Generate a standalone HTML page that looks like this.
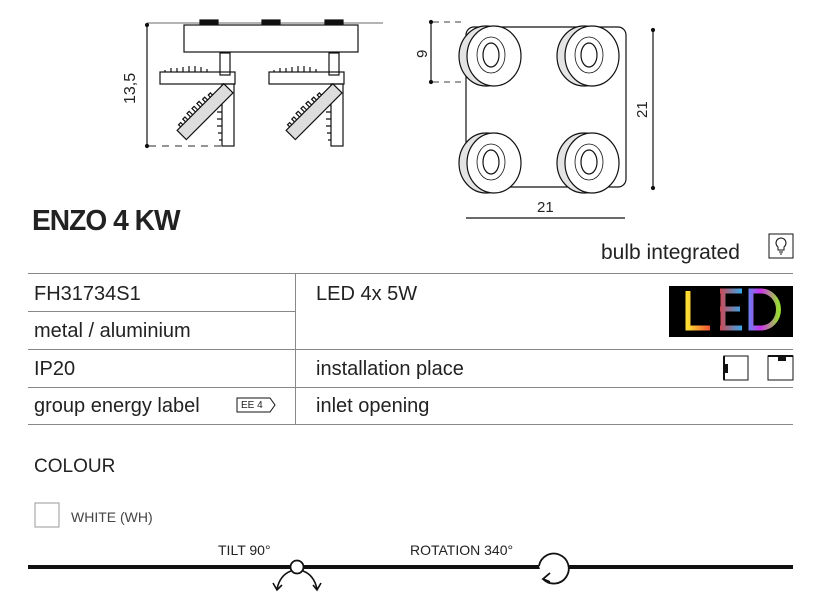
<!DOCTYPE html>
<html><head><style>
body{margin:0;width:826px;height:615px;background:#fff;overflow:hidden;position:relative;font-family:"Liberation Sans",sans-serif;color:#222}
.t{position:absolute;white-space:nowrap}
.h{position:absolute;height:1px;background:#888}
</style></head><body>
<svg width="826" height="615" style="position:absolute;left:0;top:0" fill="none" stroke="#111" stroke-width="1.2">
<line x1="147" y1="23" x2="383" y2="23" stroke="#888"/>
<rect x="200" y="20" width="18" height="4" fill="#111"/><rect x="262" y="20" width="18" height="4" fill="#111"/><rect x="325" y="20" width="18" height="4" fill="#111"/>
<rect x="184" y="25" width="174" height="27"/>
<line x1="147" y1="25" x2="147" y2="146"/>
<line x1="149" y1="146" x2="225" y2="146" stroke-dasharray="7,6" stroke="#555"/>
<g id="sp">
<rect x="220" y="53" width="10" height="22"/>
<rect x="160" y="72" width="75" height="12"/>
<rect x="222" y="84" width="12" height="62"/>
<path d="M165 72v-2M171 72v-4M177 72v-4M183 72v-5M189 72v-6M195 72v-6M201 72v-5M207 72v-3"/>
<path d="M222 98h-5M222 105h-5M222 112h-5M222 119h-5M222 126h-5M222 133h-4M222 140h-3"/>
<g transform="rotate(-45 204 112)"><rect x="172" y="106" width="66" height="13" fill="#ddd"/>
<path d="M177 106v-3h3v3M184 106v-4h3v4M191 106v-5h3v5M198 106v-5h3v5M205 106v-5h3v5M212 106v-4h3v4M219 106v-3h3v3"/></g>
</g>
<use href="#sp" x="109"/>
<rect x="466" y="27" width="160" height="160" rx="8"/>
<g id="c"><ellipse cx="486" cy="56" rx="27" ry="30" fill="#e4e4e4"/><ellipse cx="494" cy="56" rx="27" ry="30" fill="#fff"/><ellipse cx="491" cy="55" rx="14" ry="18" stroke-width=".8"/><ellipse cx="491" cy="55" rx="8" ry="12"/></g>
<use href="#c" x="98"/><use href="#c" y="107"/><use href="#c" x="98" y="107"/>
<line x1="431" y1="22" x2="431" y2="82"/><line x1="433" y1="22" x2="466" y2="22" stroke-dasharray="6,5" stroke="#666"/><line x1="433" y1="82" x2="466" y2="82" stroke-dasharray="6,5" stroke="#666"/>
<line x1="653" y1="30" x2="653" y2="188"/>
<line x1="466" y1="218" x2="625" y2="218"/>
<circle cx="431" cy="22" r="1.5" fill="#111"/><circle cx="431" cy="82" r="1.5" fill="#111"/><circle cx="653" cy="30" r="1.5" fill="#111"/><circle cx="653" cy="188" r="1.5" fill="#111"/><circle cx="147" cy="25" r="1.5" fill="#111"/><circle cx="147" cy="146" r="1.5" fill="#111"/>
<rect x="769" y="234" width="24" height="24" stroke-width="1"/>
<path d="M778 250v-3a5 5 0 1 1 6 0v3zM779 252h4M780 254h2" stroke-width="1"/>
<path d="M724 356v24h24v-24z" stroke-width="1"/><rect x="724" y="364" width="4" height="9" fill="#111" stroke="none"/>
<path d="M768 356v24h25v-24z" stroke-width="1"/><rect x="778" y="356" width="8" height="5" fill="#111" stroke="none"/>
<line x1="724" y1="356" x2="724" y2="380" stroke-width="2"/><line x1="768" y1="356" x2="793" y2="356" stroke-width="2"/>
<path d="M237 398h33l5 7l-5 7h-33z" stroke-width="1"/>
<rect x="35" y="503" width="24" height="24" stroke="#999" stroke-width="1"/>
<line x1="28" y1="567" x2="793" y2="567" stroke-width="4"/>
<circle cx="297" cy="567" r="6.5" fill="#fff" stroke-width="1.8"/>
<path d="M291 571q-11 4-14 18M273 583l4 7l5-5M303 571q11 4 14 18M313 585l4 5l4-7" stroke-width="1.6"/>
<path d="M539 566a15 15 0 1 1 4 13M550 573l-7 6l7 3" stroke-width="1.8" fill="#fff"/>
</svg>
<div class="t" style="font-size:16px;transform:rotate(-90deg);transform-origin:0 0;top:104px;left:122px">13,5</div>
<div class="t" style="font-size:15px;transform:rotate(-90deg);transform-origin:0 0;left:414px;top:58px">9</div>
<div class="t" style="font-size:15px;transform:rotate(-90deg);transform-origin:0 0;left:634px;top:118px">21</div>
<div class="t" style="left:537px;top:199px;font-size:15px">21</div>
<div class="t" style="left:32px;top:205px;font-size:29px;font-weight:bold;letter-spacing:-1px;transform:scaleX(.97);transform-origin:0 0">ENZO 4 KW</div>
<div class="t" style="left:601px;top:241px;font-size:21px">bulb integrated</div>
<div class="h" style="left:28px;top:273px;width:765px"></div>
<div class="h" style="left:28px;top:311px;width:267px"></div>
<div class="h" style="left:28px;top:349px;width:765px"></div>
<div class="h" style="left:28px;top:387px;width:765px"></div>
<div class="h" style="left:28px;top:424px;width:765px"></div>
<div style="position:absolute;left:295px;top:273px;width:1px;height:151px;background:#888"></div>
<div class="t" style="left:34px;top:283px;font-size:20px">FH31734S1</div>
<div class="t" style="left:34px;top:320px;font-size:20px">metal / aluminium</div>
<div class="t" style="left:34px;top:358px;font-size:20px">IP20</div>
<div class="t" style="left:34px;top:395px;font-size:20px">group energy label</div>
<div class="t" style="left:241px;top:400px;font-size:10px">EE 4</div>
<div class="t" style="left:316px;top:283px;font-size:20px">LED 4x 5W</div>
<div class="t" style="left:316px;top:358px;font-size:20px">installation place</div>
<div class="t" style="left:316px;top:395px;font-size:20px">inlet opening</div>
<div style="position:absolute;left:669px;top:286px;width:124px;height:51px;background:#000"></div>
<svg width="124" height="51" style="position:absolute;left:669px;top:286px">
<defs><linearGradient id="g" x1="0" x2="1"><stop offset="0" stop-color="#fd3"/><stop offset=".3" stop-color="#e33"/><stop offset=".6" stop-color="#3ae"/><stop offset=".8" stop-color="#c3e"/><stop offset="1" stop-color="#9d3"/></linearGradient></defs>
<path d="M19 5v37h22M51 5h22M51 23h20M51 42h22M54 5v37M82 5v37h10a17 18 0 0 0 0-37z" stroke="url(#g)" stroke-width="5" fill="none"/>
</svg>
<div class="t" style="left:34px;top:456px;font-size:19px">COLOUR</div>
<div class="t" style="left:71px;top:509px;font-size:14px;color:#444">WHITE (WH)</div>
<div class="t" style="left:218px;top:542px;font-size:14px">TILT 90°</div>
<div class="t" style="left:410px;top:542px;font-size:14px">ROTATION 340°</div>
</body></html>
